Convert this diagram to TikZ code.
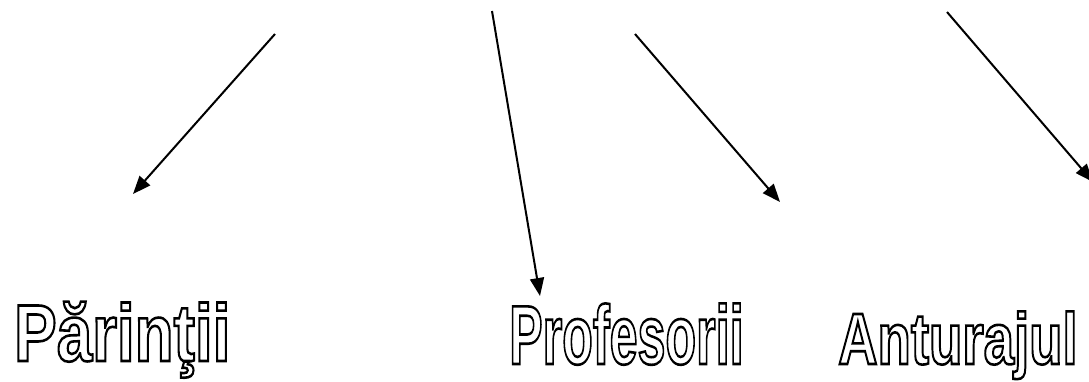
\documentclass[tikz,border=0pt]{standalone}
\usepackage{fontspec}
\setmainfont{Liberation Sans}
\usetikzlibrary{arrows.meta, positioning}

% hollow letters: stroke the glyphs only
\newcommand{\contur}[1]{\special{pdf:literal direct 1 Tr 2.6 w}#1\special{pdf:literal direct 0 Tr}}

\begin{document}
\begin{tikzpicture}[x=1bp, y=-1bp,
  arrow/.style={-{Triangle[length=18bp, width=14bp]}, line width=2bp},
  eticheta/.style={inner sep=0pt, anchor=base west, font=\bfseries}
]
\useasboundingbox (0,0) rectangle (1089,381);

\coordinate (s1) at (275,34);  \coordinate (t1) at (133,194);
\coordinate (s2) at (492,11);  \coordinate (t2) at (540,296);
\coordinate (s3) at (635,34);  \coordinate (t3) at (780,202);
\coordinate (s4) at (947,12);  \coordinate (t4) at (1093,182);

\draw[arrow] (s1) -- (t1);
\draw[arrow] (s2) -- (t2);
\draw[arrow] (s3) -- (t3);
\draw[arrow] (s4) -- (t4);

\node[eticheta] (parinti)   at (14,361)  {\fontsize{81}{81}\selectfont\contur{\scalebox{0.79}[1]{Părinţii}}};
\node[eticheta] (profesori) at (509,364) {\fontsize{84}{84}\selectfont\contur{\scalebox{0.6}[1]{Profesorii}}};
\node[eticheta] (anturaj)   at (838,364) {\fontsize{73}{73}\selectfont\contur{\scalebox{0.75}[1]{Anturajul}}};
\end{tikzpicture}
\end{document}
